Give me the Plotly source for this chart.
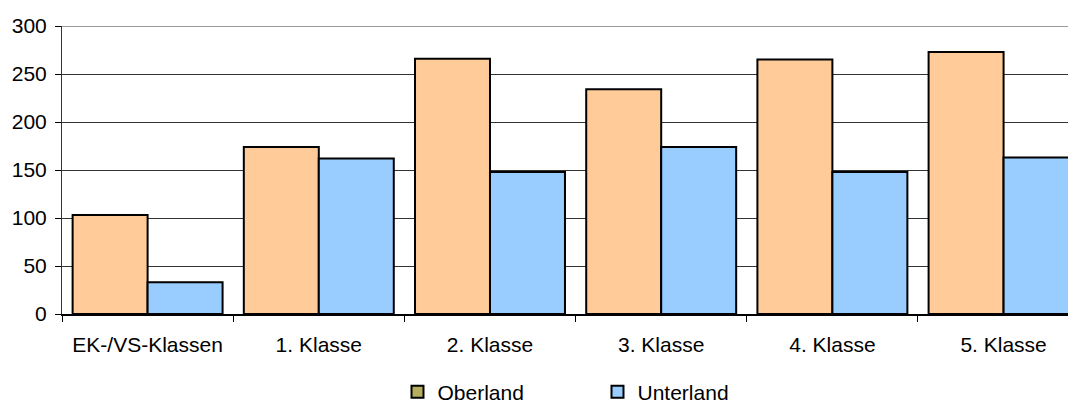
import plotly.graph_objects as go

# Daten
klassen = ["EK-/VS-Klassen", "1. Klasse", "2. Klasse", "3. Klasse", "4. Klasse", "5. Klasse"]
oberland = [103, 174, 266, 234, 265, 273]
unterland = [33, 162, 148, 174, 148, 163]
y_ticks = [0, 50, 100, 150, 200, 250, 300]

fig = go.Figure()

fig.add_trace(go.Bar(
    x=klassen, y=oberland, name="Oberland", offsetgroup="ober",
    marker=dict(color="#FFCC99", line=dict(color="#000000", width=2)),
    showlegend=False
))
fig.add_trace(go.Bar(
    x=klassen, y=unterland, name="Unterland", offsetgroup="unter",
    marker=dict(color="#99CCFF", line=dict(color="#000000", width=2)),
    showlegend=False
))

# Legendeneinträge (Excel zeigt das Oberland-Symbol olivfarben)
fig.add_trace(go.Bar(
    x=[None], y=[None], name="Oberland", offsetgroup="ober",
    marker=dict(color="#B5AE5F", line=dict(color="#000000", width=2))
))
fig.add_trace(go.Bar(
    x=[None], y=[None], name="Unterland", offsetgroup="unter",
    marker=dict(color="#99CCFF", line=dict(color="#000000", width=2))
))

# graue Rahmenlinie oben
fig.add_shape(type="line", xref="paper", yref="y", x0=0, x1=1, y0=300, y1=300,
              line=dict(color="#999999", width=2))

# Seite hat 8px Rand -> Figur etwas kleiner
fig.update_layout(
    width=1068, height=400,
    margin=dict(l=54, r=0, t=18, b=94, autoexpand=False),
    paper_bgcolor="white", plot_bgcolor="white",
    font=dict(family="Liberation Sans, Arial, sans-serif", size=21, color="#000000"),
    barmode="group", bargap=0.124, bargroupgap=0,
    legend=dict(
        orientation="h", xref="container", yref="paper",
        x=0.3647, y=-0.271, xanchor="left", yanchor="middle",
        entrywidth=155, entrywidthmode="pixels",
        font=dict(size=21), itemclick=False
    ),
    xaxis=dict(
        range=[-0.5, 5.423], tickson="boundaries", ticks="outside", ticklen=6,
        tickcolor="#000000", showline=True, linecolor="#000000", linewidth=2,
        showgrid=False, ticklabelstandoff=11
    ),
    yaxis=dict(
        range=[0, 300], tickvals=y_ticks, ticks="outside", ticklen=6,
        tickcolor="#000000", showline=True, linecolor="#333333", linewidth=1,
        showgrid=True, gridcolor="#333333", gridwidth=1, zeroline=False,
        ticklabelstandoff=4
    ),
)

fig.write_html("out.html")
